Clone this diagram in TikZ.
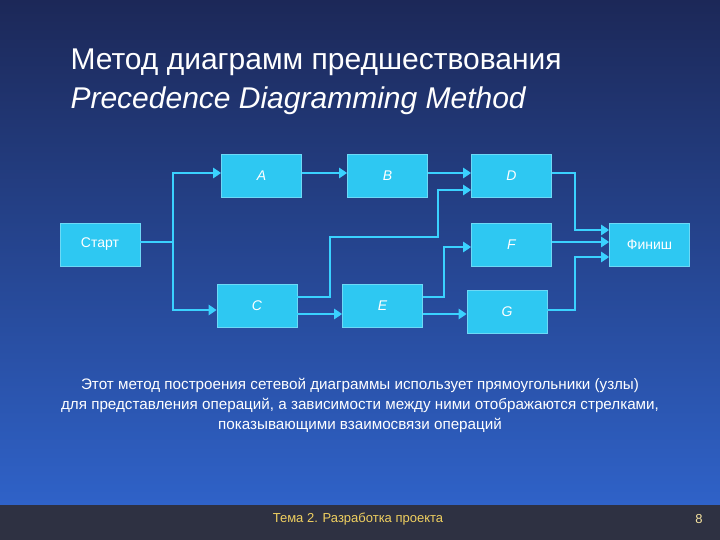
\documentclass[tikz,border=0pt]{standalone}
\usepackage{fontspec}
\setmainfont{Liberation Sans}
\usetikzlibrary{arrows.meta}
\definecolor{bxc}{HTML}{2EC8F2}
\definecolor{wc}{HTML}{3AD2FF}
\definecolor{bgtop}{HTML}{1C2858}
\definecolor{bgbot}{HTML}{2F62C8}
\definecolor{foot}{HTML}{2E3142}
\definecolor{ftxt}{HTML}{F0D060}
\begin{document}
\begin{tikzpicture}[x=1pt,y=-1pt,
 bx/.style={fill=bxc,draw=bxc!70!white,line width=0.6pt,minimum width=80pt,minimum height=43pt,text=white,font=\fontsize{14}{16}\selectfont\itshape},
 wire/.style={draw=wc,line width=2.6pt},
 arr/.style={wire,-{Triangle[length=8pt,width=10pt]}}]
\useasboundingbox (0,0) rectangle (720,540);
\shade[top color=bgtop,bottom color=bgbot] (0,0) rectangle (720,505);
\fill[foot] (0,505) rectangle (720,540);
\node[anchor=west,text=white,font=\fontsize{30}{32}\selectfont] (t1) at (67,62) {Метод диаграмм предшествования};
\node[anchor=west,text=white,font=\fontsize{30}{32}\selectfont\itshape] (t2) at (67,101) {Precedence Diagramming Method};
\node[bx,font=\fontsize{14}{16}\selectfont] (S) at (100,244.5) {Старт};
\node[bx] (A) at (261.5,176) {A};
\node[bx] (B) at (387.5,176) {B};
\node[bx] (D) at (511.5,176) {D};
\node[bx] (F) at (511.5,244.5) {F};
\node[bx,font=\fontsize{14}{16}\selectfont] (Fin) at (649.5,244.5) {Финиш};
\node[bx] (C) at (257,305.5) {C};
\node[bx] (E) at (382.5,305.5) {E};
\node[bx] (G) at (507,312) {G};
\coordinate (j) at (173,242);
\draw[wire] (S.east|-j) -- (j);
\draw[arr] (j) |- (A.west|-0,173);
\draw[arr] (j) |- (C.west|-0,310);
\draw[arr] (A.east|-0,173) -- (B.west|-0,173);
\draw[arr] (B.east|-0,173) -- (D.west|-0,173);
\draw[arr] (C.east|-0,297) -- (330,297) -- (330,237) -- (438,237) -- (438,190) -- (D.west|-0,190);
\draw[arr] (C.east|-0,314) -- (E.west|-0,314);
\draw[arr] (E.east|-0,297) -- (444,297) -- (444,247) -- (F.west|-0,247);
\draw[arr] (E.east|-0,314) -- (G.west|-0,314);
\draw[arr] (D.east|-0,173) -- (575,173) -- (575,230) -- (Fin.west|-0,230);
\draw[arr] (F.east|-0,242) -- (Fin.west|-0,242);
\draw[arr] (G.east|-0,310) -- (575,310) -- (575,257) -- (Fin.west|-0,257);
\node[text=white,align=center,font=\fontsize{15.2}{20}\selectfont] (txt) at (360,405) {Этот метод построения сетевой диаграммы использует прямоугольники (узлы)\\для представления операций, а зависимости между ними отображаются стрелками,\\показывающими взаимосвязи операций};
\node[text=ftxt,font=\fontsize{13}{15}\selectfont] (ft) at (358,519) {Тема 2. Разработка проекта};
\node[text=ftxt!60!white,font=\fontsize{13}{15}\selectfont] (pg) at (699,519) {8};
\end{tikzpicture}
\end{document}
